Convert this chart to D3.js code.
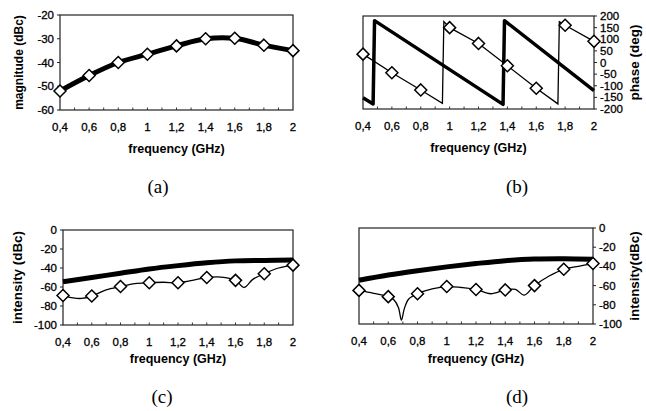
<!DOCTYPE html>
<html>
<head>
<meta charset="utf-8">
<script src="https://cdn.jsdelivr.net/npm/d3@7"></script>
<style>
	body { margin: 0; background: #fff; }
	svg { display: block; font-family: 'Liberation Sans', Arial, sans-serif; }
</style>
</head>
<body>
<svg width="646" height="411"></svg>
<script>
'use strict';

// x axis, shared by all four panels
const freqTicks = [0.4, 0.6, 0.8, 1.0, 1.2, 1.4, 1.6, 1.8, 2.0];
const freqLabels = ['0,4', '0,6', '0,8', '1', '1,2', '1,4', '1,6', '1,8', '2'];

// (a) magnitude, one value per marker
const magA = [-52, -45.5, -40, -36.5, -33, -30, -29.8, -32.7, -35];

// (b) phase, thick curve and thin curve with its wraps
const phaseThick = [[0.4, -152], [0.47, -178], [0.48, 180], [1.37, -180], [1.38, 180], [2.0, -121]];
const phaseThin = [[0.4, 36], [0.6, -44], [0.8, -118], [0.95, -176], [0.96, 176], [1.0, 150], [1.2, 82],
	[1.4, -14], [1.6, -111], [1.75, -178], [1.76, 176], [1.8, 160], [2.0, 91]];
const phaseMarkers = [36, -44, -118, 150, 82, -14, -111, 160, 91];

// (c) intensity
const thickC = [-54.5, -50, -45.5, -41, -37.5, -34.5, -32.5, -32, -31.5];
const thinC = [[0.4, -69], [0.47, -71.5], [0.53, -72], [0.6, -69.5], [0.7, -63], [0.8, -59.5], [0.9, -56.5],
	[1.0, -55.5], [1.1, -55], [1.2, -55.5], [1.3, -53], [1.4, -50], [1.5, -49.5], [1.6, -53], [1.66, -60.5],
	[1.72, -52], [1.8, -46], [1.9, -40], [2.0, -37]];
const markersC = [-69, -69.5, -59.5, -55.5, -55.5, -50, -53, -46, -37];

// (d) intensity
const thickD = [-54.5, -49, -44.5, -40.5, -37, -34, -32.3, -32, -32.5];
const thinD = [[0.4, -65], [0.5, -68], [0.6, -71.5], [0.64, -75], [0.67, -83], [0.69, -96], [0.71, -84],
	[0.74, -74], [0.8, -68.5], [0.9, -63.5], [1.0, -61], [1.1, -62], [1.2, -64], [1.3, -68.5], [1.4, -64.5],
	[1.47, -64], [1.53, -70], [1.6, -60], [1.7, -50], [1.8, -43], [1.9, -40], [2.0, -37]];
const markersD = [-65, -71.5, -68.5, -61, -64, -64.5, -60, -43, -37];

const svg = d3.select('svg');

const panels = [
	{ x0: 60, x1: 293, y0: 15, y1: 110, side: 'left', domain: [-60, -20], ticks: d3.range(-20, -61, -10),
	  title: 'magnitude (dBc)', titleX: 19, titleSize: 12, caption: '(a)', capX: 158, freqDy: 43, capDy: 83,
	  thick: freqTicks.map((f, i) => [f, magA[i]]), thickW: 5, thickCurve: d3.curveCatmullRom,
	  markers: magA },
	{ x0: 363, x1: 594, y0: 16, y1: 109, side: 'right', domain: [-200, 200], ticks: d3.range(200, -201, -50),
	  title: 'phase (deg)', titleX: 634, titleSize: 13.5, caption: '(b)', capX: 517, freqDy: 43, capDy: 84,
	  thick: phaseThick, thickW: 3.5, thickCurve: d3.curveLinear,
	  thin: phaseThin, thinCurve: d3.curveLinear, markers: phaseMarkers },
	{ x0: 63, x1: 293, y0: 230, y1: 325, side: 'left', domain: [-100, 0], ticks: d3.range(0, -101, -20),
	  title: 'intensity (dBc)', titleX: 17, titleSize: 13.4, caption: '(c)', capX: 162, freqDy: 38, capDy: 78,
	  thick: freqTicks.map((f, i) => [f, thickC[i]]), thickW: 5, thickCurve: d3.curveCatmullRom,
	  thin: thinC, thinCurve: d3.curveCatmullRom, markers: markersC },
	{ x0: 359, x1: 593, y0: 228, y1: 324, side: 'right', domain: [-100, 0], ticks: d3.range(0, -101, -20),
	  title: 'intensity(dBc)', titleX: 634, titleSize: 13.4, caption: '(d)', capX: 517, freqDy: 39, capDy: 79,
	  thick: freqTicks.map((f, i) => [f, thickD[i]]), thickW: 5, thickCurve: d3.curveCatmullRom,
	  thin: thinD, thinCurve: d3.curveCatmullRom, markers: markersD },
];

panels.forEach(drawPanel);

function drawPanel(p) {
	const x = d3.scaleLinear().domain([0.4, 2]).range([p.x0, p.x1]);
	const y = d3.scaleLinear().domain(p.domain).range([p.y1, p.y0]);
	const g = svg.append('g');

	g.append('rect')
		.attr('x', p.x0).attr('y', p.y0)
		.attr('width', p.x1 - p.x0).attr('height', p.y1 - p.y0)
		.attr('fill', 'none').attr('stroke', '#222').attr('stroke-width', 1.2)
	;

	// small ticks every 0.1 GHz, inside the frame
	g.selectAll('.minor')
		.data(d3.range(0.5, 2.0, 0.1))
		.join('line')
		.attr('x1', d => x(d)).attr('x2', d => x(d))
		.attr('y1', p.y1).attr('y2', p.y1 - 2.5)
		.attr('stroke', '#333')
	;

	g.selectAll('.xlab')
		.data(freqTicks)
		.join('text')
		.attr('x', d => x(d))
		.attr('y', p.y1 + 21)
		.attr('text-anchor', 'middle')
		.attr('font-size', 11.5)
		.attr('stroke', '#000').attr('stroke-width', 0.3)
		.text((d, i) => freqLabels[i])
	;

	const right = p.side === 'right';
	const axisX = right ? p.x1 : p.x0;
	g.selectAll('.ytick')
		.data(p.ticks)
		.join('line')
		.attr('x1', axisX).attr('x2', axisX + (right ? 3 : -3))
		.attr('y1', d => y(d)).attr('y2', d => y(d))
		.attr('stroke', '#222')
	;
	g.selectAll('.ylab')
		.data(p.ticks)
		.join('text')
		.attr('x', right ? p.x1 + 6 : p.x0 - 6)
		.attr('y', d => y(d) + 4)
		.attr('text-anchor', right ? 'start' : 'end')
		.attr('font-size', 11.5)
		.attr('stroke', '#000').attr('stroke-width', 0.3)
		.text(d => d)
	;

	g.append('text')
		.attr('transform', `translate(${p.titleX},${(p.y0 + p.y1) / 2}) rotate(-90)`)
		.attr('dy', '0.35em')
		.attr('text-anchor', 'middle')
		.attr('font-size', p.titleSize)
		.attr('font-weight', 'bold')
		.text(p.title)
	;
	g.append('text')
		.attr('x', (p.x0 + p.x1) / 2)
		.attr('y', p.y1 + p.freqDy)
		.attr('text-anchor', 'middle')
		.attr('font-size', 12.5)
		.attr('font-weight', 'bold')
		.text('frequency (GHz)')
	;
	g.append('text')
		.attr('x', p.capX)
		.attr('y', p.y1 + p.capDy)
		.attr('text-anchor', 'middle')
		.attr('font-family', "'Liberation Serif', 'Times New Roman', serif")
		.attr('font-size', 19)
		.text(p.caption)
	;

	g.append('path')
		.attr('d', d3.line().x(d => x(d[0])).y(d => y(d[1])).curve(p.thickCurve)(p.thick))
		.attr('fill', 'none').attr('stroke', '#000').attr('stroke-width', p.thickW)
		.attr('stroke-linejoin', 'round')
	;

	if (p.thin) {
		g.append('path')
			.attr('d', d3.line().x(d => x(d[0])).y(d => y(d[1])).curve(p.thinCurve)(p.thin))
			.attr('fill', 'none').attr('stroke', '#000').attr('stroke-width', 1.3)
		;
	}

	g.selectAll('.marker')
		.data(p.markers)
		.join('path')
		.attr('transform', (d, i) => `translate(${x(freqTicks[i])},${y(d)})`)
		.attr('d', 'M0,-6L6,0L0,6L-6,0Z')
		.attr('fill', '#fff').attr('stroke', '#000').attr('stroke-width', 1.5)
	;
}
</script>
</body>
</html>
